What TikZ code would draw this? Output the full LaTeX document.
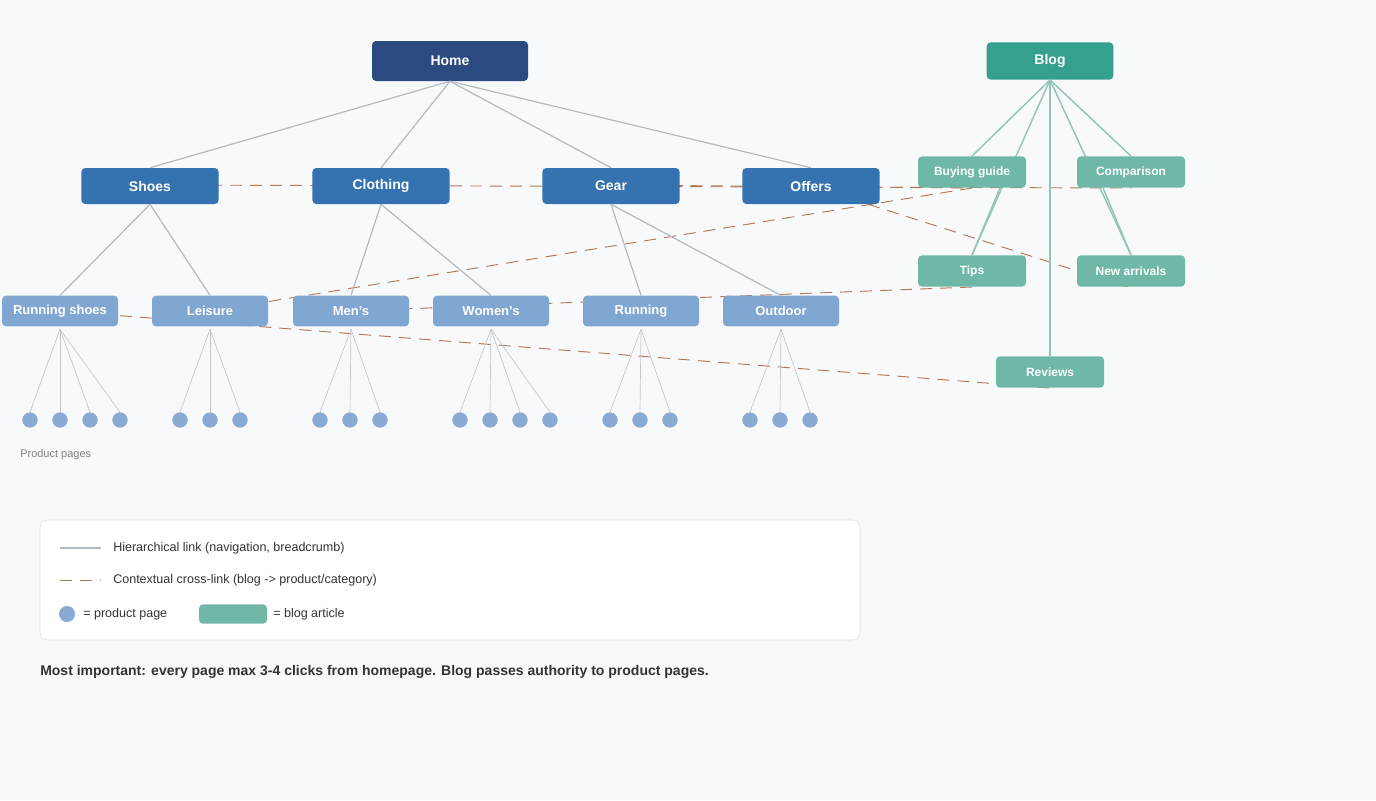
\documentclass[tikz,border=0pt]{standalone}
\usepackage{fontspec}
\setmainfont{Liberation Sans}
\begin{document}
\begin{tikzpicture}[x=0.75pt,y=-0.75pt,
  box/.style={rounded corners=3pt,text=white,font=\bfseries,inner sep=0pt,anchor=center},
  home/.style={box,fill=homec,minimum width=117pt,minimum height=30pt,font=\bfseries\fontsize{10.5}{12}\selectfont},
  cat/.style={box,fill=catc,minimum width=103pt,minimum height=27pt,font=\bfseries\fontsize{10.5}{12}\selectfont},
  sub/.style={box,fill=subc,minimum width=87pt,minimum height=23pt,font=\bfseries\fontsize{9.75}{11}\selectfont},
  blog/.style={box,fill=blogc,minimum width=95pt,minimum height=28pt,font=\bfseries\fontsize{10.5}{12}\selectfont},
  art/.style={box,fill=artc,minimum width=81pt,minimum height=23.5pt,font=\bfseries\fontsize{9}{10}\selectfont},
  dot/.style={circle,fill=dotc,minimum size=11.5pt,inner sep=0pt},
  hier/.style={draw=hierc,line width=0.9pt},
  thin/.style={draw=hierc!80,line width=0.5pt},
  bl/.style={draw=bllc,line width=1.1pt},
  cross/.style={draw=crossc,line width=0.7pt,dash pattern=on 9pt off 6pt},
]
\definecolor{bg}{HTML}{F7F9FB}
\definecolor{homec}{HTML}{2A4A80}
\definecolor{catc}{HTML}{3572B0}
\definecolor{subc}{HTML}{7FA7D1}
\definecolor{dotc}{HTML}{88AAD3}
\definecolor{blogc}{HTML}{36A08E}
\definecolor{artc}{HTML}{6FB8A8}
\definecolor{hierc}{HTML}{B3BAC2}
\definecolor{bllc}{HTML}{96C4BA}
\definecolor{crossc}{HTML}{B07858}
\fill[bg] (0,0) rectangle (1376,800);
\useasboundingbox (0,0) rectangle (1376,800);
% coordinates for nodes
\coordinate (pHome) at (450,61);
% cross links first (under nodes)
\coordinate (cmpB) at (1131,188);
\coordinate (bgB) at (972,188);
\coordinate (tpB) at (972,287);
\coordinate (naB) at (1131,288);
\coordinate (rvB) at (1050,388);
\coordinate (cShoes) at (150,185);
\coordinate (cGear) at (611,185);
\coordinate (cOffers) at (811,186);
\coordinate (cLeis) at (210,311);
\coordinate (cMens) at (351,311);
\coordinate (cRun) at (60,311);
\draw[cross] (cShoes) -- (cmpB);
\draw[cross] (cGear) -- (bgB);
\draw[cross] (bgB) -- (cLeis);
\draw[cross] (cOffers) -- (naB);
\draw[cross] (tpB) -- (cMens);
\draw[cross] (cRun) -- (rvB);
% nodes
\node[home] (home) at (450,61) {Home};
\node[cat] (shoes) at (150,186) {Shoes};
\node[cat] (cloth) at (381,186) {Clothing};
\node[cat] (gear) at (611,186) {Gear};
\node[cat] (offers) at (811,186) {Offers};
\node[sub] (rs) at (60,311) {Running shoes};
\node[sub] (le) at (210,311) {Leisure};
\node[sub] (me) at (351,311) {Men's};
\node[sub] (wo) at (491,311) {Women's};
\node[sub] (ru) at (641,311) {Running};
\node[sub] (ou) at (781,311) {Outdoor};
% hierarchy
\foreach \c in {shoes,cloth,gear,offers}{\draw[hier] (home.south) -- (\c.north);}
\draw[hier] (shoes.south) -- (rs.north); \draw[hier] (shoes.south) -- (le.north);
\draw[hier] (cloth.south) -- (me.north); \draw[hier] (cloth.south) -- (wo.north);
\draw[hier] (gear.south) -- (ru.north); \draw[hier] (gear.south) -- (ou.north);
% dots
\foreach \p/\xs in {rs/{30,60,90,120},le/{180,210,240},me/{320,350,380},wo/{460,490,520,550},ru/{610,640,670},ou/{750,780,810}}{
  \foreach \x in \xs {
    \node[dot] (d\p\x) at (\x,420) {};
    \draw[thin] ([yshift=-2pt]\p.south) -- (d\p\x.north);
  }
}
\node[font=\fontsize{8.25}{10}\selectfont,text=gray,anchor=west,inner sep=0pt] (pp) at (20,455) {Product pages};
% blog
\coordinate (tpT) at (972,255);
\coordinate (naT) at (1131,255);
\coordinate (rvT) at (1050,355);
\node[blog] (blog) at (1050,61) {Blog};
\draw[bl] (blog.south) -- (tpT);
\draw[bl] (blog.south) -- (naT);
\node[art] (bg) at (972,172) {Buying guide};
\node[art] (cmp) at (1131,172) {Comparison};
\node[art] (tp) at (972,271) {Tips};
\node[art] (na) at (1131,271) {New arrivals};
\node[art] (rv) at (1050,372) {Reviews};
\draw[bl] (blog.south) -- (bg.north);
\draw[bl] (blog.south) -- (cmp.north);
\draw[bl] (blog.south) -- (rv.north);
\draw[bl] (bg.south) ++(28,0) coordinate (bgs) ; \draw[bl] (bgs) -- (tp.north);
\draw[bl] (cmp.south) ++(-28,0) coordinate (cms) ; \draw[bl] (cms) -- (na.north);
% legend
\node[draw=black!12,fill=white,rounded corners=6pt,minimum width=615pt,minimum height=90pt,inner sep=0pt] (leg) at (450,580) {};
\coordinate (l1a) at (60,548); \coordinate (l1b) at (101,548);
\draw[hier] (l1a) -- (l1b);
\node[anchor=west,inner sep=0pt,font=\fontsize{9.4}{11}\selectfont,text=black!80] (t1) at (113,548) {Hierarchical link (navigation, breadcrumb)};
\coordinate (l2a) at (60,580); \coordinate (l2b) at (101,580);
\draw[cross] (l2a) -- (l2b);
\node[anchor=west,inner sep=0pt,font=\fontsize{9.4}{11}\selectfont,text=black!80] (t2) at (113,580) {Contextual cross-link (blog -> product/category)};
\node[dot,minimum size=12pt] (ld) at (67,614) {};
\node[anchor=west,inner sep=0pt,font=\fontsize{9.4}{11}\selectfont,text=black!80] (t3) at (83,614) {= product page};
\node[fill=artc,rounded corners=3pt,minimum width=51pt,minimum height=14.5pt,inner sep=0pt] (lr) at (233,614) {};
\node[anchor=west,inner sep=0pt,font=\fontsize{9.4}{11}\selectfont,text=black!80] (t4) at (273,614) {= blog article};
\node[anchor=west,inner sep=0pt,font=\bfseries\fontsize{10.5}{12}\selectfont,text=black!80] (note) at (40,672) {Most important: every page max 3-4 clicks from homepage. Blog passes authority to product pages.};
\end{tikzpicture}
\end{document}
